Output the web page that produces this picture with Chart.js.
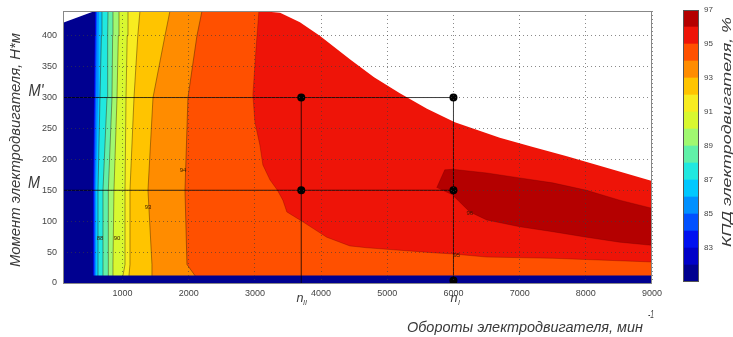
<!DOCTYPE html>
<html>
<head>
<meta charset="utf-8">
<script src="https://cdn.jsdelivr.net/npm/chart.js@4.4.0/dist/chart.umd.min.js"></script>
<style>
html,body{margin:0;padding:0;background:#fff;}
#wrap{position:relative;width:733px;height:337px;}
#main{position:absolute;left:0;top:0;}
#bar{position:absolute;left:680px;top:0;}
</style>
</head>
<body>
<div id="wrap">
<canvas id="main" width="733" height="337"></canvas>
<canvas id="bar" width="53" height="337"></canvas>
</div>
<script>
//----------------- data
// colour bands of the colour bar, 1% each from 81 to 97
const bandLow = [81,82,83,84,85,86,87,88,89,90,91,92,93,94,95,96]
const bandColors = ['#000090','#0000c8','#0010f0','#0050ff','#0090ff','#00c8ff','#20e8e0','#60f0a8',
                    '#a0f870','#d8f830','#f8ec20','#ffc400','#ff8c00','#ff5000','#ee1408','#b40000']
const barTicks = [83,85,87,89,91,93,95,97]
const xTicks = [1000,2000,3000,4000,5000,6000,7000,8000,9000]
const yTicks = [0,50,100,150,200,250,300,350,400]

// torque values (N*m) where the near-vertical contour lines were read
const lineTorque = [12, 30, 150, 300, 400, 440]
// speed (rpm) of contour lines 82..94 at those torques
const contour82 = [553,553,553,568,578,583]
const contour83 = [560,560,560,575,585,590]
const contour84 = [568,568,568,583,593,598]
const contour85 = [583,583,583,598,609,614]
const contour86 = [598,598,598,629,639,644]
const contour87 = [629,629,629,659,680,689]
const contour88 = [704,704,704,765,775,780]
const contour89 = [780,780,795,840,850,855]
const contour90 = [855,855,870,916,936,946]
const contour91 = [1006,1037,1037,1052,1070,1082]
const contour92 = [1097,1112,1112,1173,1230,1263]
const contour93 = [1444,1444,1384,1460,1641,1716]
const contour94 = [2094,1973,1943,1988,2124,2200]

// 95% contour (upper edge of the 94..95 band), speed/torque pairs
const contour95 = [[3060,440],[3015,377],[2969,304],[3000,260],[3075,223],[3120,191],[3226,167],[3340,150],
                   [3422,134],[3482,115],[3724,99],[4086,74],[4434,60],[4690,57],[5189,53],[5687,49],
                   [5989,47],[6502,42],[7499,40],[8994,34]]
// 96% island
const contour96 = [[5747,154],[5868,183],[5989,184],[6502,178],[7001,170],[7499,162],[8012,150],[8511,134],
                   [8994,121],[9800,112],[9800,55],[8994,61],[8511,66],[8012,74],[7499,83],[7001,91],
                   [6502,102],[6246,115],[5989,142]]
// max torque curve of the motor
const torqueLimit = [[100,421],[580,440],[3080,440],[3380,437],[3680,422],[3980,400],[4435,362],[4800,333],
                     [5190,307],[5600,282],[6021,260],[6700,235],[7200,220],[7713,205],[8300,187],[9000,165]]
const lowTorqueBand = 12   // below this the efficiency drops off (dark band)

// operating points
const nII = 3700, nI = 6000
const Mprime = 300, Mnom = 150
const opPoints = [[nII,Mprime],[nI,Mprime],[nII,Mnom],[nI,Mnom],[nI,4]]

// inline contour labels [speed, torque, text]
const contourLabels = [[660,73,'88'],[916,73,'90'],[1384,123,'93'],[1913,183,'94'],[6050,44,'95'],[6246,113,'96']]

//----------------- build polygons
const pt = p => ({x:p[0], y:p[1]})

function leftRegion(xs){
  const pts = [{x:xs[0], y:-40}]
  xs.forEach((x,i) => pts.push({x:x, y:lineTorque[i]}))
  pts.push({x:xs[xs.length-1], y:500}, {x:9900, y:500}, {x:9900, y:-40})
  return pts
}

const leftContours = [contour82,contour83,contour84,contour85,contour86,contour87,contour88,
                      contour89,contour90,contour91,contour92,contour93,contour94]

const layers = []
function polygon(points, color, line){
  layers.push({
    data: points, showLine: true, fill: 'shape', backgroundColor: color,
    borderColor: line || 'rgba(0,0,0,0)', borderWidth: line ? 0.8 : 0,
    pointRadius: 0, tension: 0
  })
}
// navy background (< 82 %)
polygon([{x:-500,y:-40},{x:9900,y:-40},{x:9900,y:500},{x:-500,y:500}], bandColors[0])
leftContours.forEach((xs,i) => {
  const lvl = 82 + i
  polygon(leftRegion(xs), bandColors[lvl-81], lvl >= 87 ? 'rgba(60,25,0,0.55)' : null)
})
polygon([{x:3060,y:500}].concat(contour95.map(pt), [{x:9900,y:33},{x:9900,y:500}]), bandColors[14], 'rgba(90,0,0,0.35)')
polygon(contour96.map(pt), bandColors[15], 'rgba(90,0,0,0.35)')
// dark low-torque band
polygon([{x:-500,y:-40},{x:9900,y:-40},{x:9900,y:lowTorqueBand},{x:-500,y:lowTorqueBand}], bandColors[0])
// white area above max torque
polygon([{x:-500,y:421}].concat(torqueLimit.map(pt), [{x:9900,y:165},{x:9900,y:600},{x:-500,y:600}]), '#ffffff')

// guide lines to the operating points
const guides = [
  [[100,Mprime],[nI,Mprime]],
  [[100,Mnom],[nI,Mnom]],
  [[nII,0],[nII,Mprime]],
  [[nI,0],[nI,Mprime]]
]
guides.forEach(g => layers.push({
  data: g.map(pt), showLine: true, fill: false, borderColor: 'rgba(0,0,0,0.85)',
  borderWidth: 0.9, pointRadius: 0
}))
layers.push({
  data: opPoints.map(pt), showLine: false, pointRadius: 4, pointBackgroundColor: '#000',
  pointBorderWidth: 0
})
// later = drawn on top
layers.forEach((d,i) => d.order = layers.length - i)

//----------------- text helpers
function fitText(ctx, text, x, y, width, rot, font, color){
  ctx.save()
  ctx.font = font
  ctx.fillStyle = color || '#3a3a3a'
  ctx.textAlign = 'center'
  ctx.textBaseline = 'middle'
  const w = ctx.measureText(text).width
  ctx.translate(x, y)
  ctx.rotate(rot)
  ctx.scale(width / w, 1)
  ctx.fillText(text, 0, 0)
  ctx.restore()
}

const labelsPlugin = {
  id: 'labels',
  afterDatasetsDraw(chart){
    const ctx = chart.ctx
    const xs = chart.scales.x, ys = chart.scales.y
    ctx.save()
    ctx.font = '6px "Liberation Sans"'
    ctx.fillStyle = '#3a1a00'
    ctx.textAlign = 'center'
    ctx.textBaseline = 'middle'
    contourLabels.forEach(l => ctx.fillText(l[2], xs.getPixelForValue(l[0]), ys.getPixelForValue(l[1])))
    ctx.restore()
  },
  afterDraw(chart){
    const ctx = chart.ctx
    const a = chart.chartArea
    ctx.save()
    ctx.strokeStyle = '#888'
    ctx.lineWidth = 1
    ctx.strokeRect(a.left + 0.5, a.top + 0.5, a.right - a.left - 1, a.bottom - a.top)
    ctx.restore()
    const f = 'italic 14px "Liberation Sans"'
    fitText(ctx, 'Момент электродвигателя, Н*м', 16, 150, 234, -Math.PI/2, f)
    fitText(ctx, 'Обороты электродвигателя, мин', 525, 328, 236, 0, f)
    fitText(ctx, '-1', 651, 315, 6, 0, 'italic 10px "Liberation Sans"')
    fitText(ctx, 'КПД электродвигателя, %', 727, 132, 230, -Math.PI/2, 'italic 13px "Liberation Sans"')
    fitText(ctx, 'М\'', 36, 91, 15, 0, 'italic 17px "Liberation Sans"')
    fitText(ctx, 'М', 34, 183, 12, 0, 'italic 17px "Liberation Sans"')
    fitText(ctx, 'n', 300, 298, 7, 0, 'italic 13px "Liberation Sans"')
    fitText(ctx, 'II', 305, 303, 4, 0, 'italic 7px "Liberation Sans"')
    fitText(ctx, 'n', 454, 298, 7, 0, 'italic 13px "Liberation Sans"')
    fitText(ctx, 'I', 459, 303, 2, 0, 'italic 7px "Liberation Sans"')
  }
}

//----------------- main contour chart
const tickFont = {family: 'Liberation Sans', size: 9}
Contour = new Chart(document.getElementById('main'), {
  type: 'scatter',
  data: {datasets: layers},
  options: {
    responsive: false,
    animation: false,
    layout: {padding: {top: 11, right: 81, left: 0, bottom: 0}},
    plugins: {legend: {display: false}, tooltip: {enabled: false}},
    scales: {
      x: {
        type: 'linear', min: 100, max: 9000,
        afterBuildTicks: s => { s.ticks = xTicks.map(v => ({value: v})) },
        afterFit: s => { s.height = 54; s.paddingLeft = 0; s.paddingRight = 0 },
        grid: {color: 'rgba(60,60,60,0.6)', drawTicks: false, z: 1},
        border: {display: false, dash: [1,3]},
        ticks: {font: tickFont, color: '#444', padding: 5, maxRotation: 0, callback: v => String(v)}
      },
      y: {
        type: 'linear', min: 0, max: 440,
        afterBuildTicks: s => { s.ticks = yTicks.map(v => ({value: v})) },
        afterFit: s => { s.width = 63; s.paddingTop = 0; s.paddingBottom = 0 },
        grid: {color: 'rgba(60,60,60,0.6)', drawTicks: false, z: 1},
        border: {display: false, dash: [1,3]},
        ticks: {font: tickFont, color: '#444', padding: 6, callback: v => String(v)}
      }
    }
  },
  plugins: [labelsPlugin]
})

//----------------- colour bar
const barFrame = {
  id: 'frame',
  afterDraw(chart){
    const a = chart.chartArea
    chart.ctx.save()
    chart.ctx.strokeStyle = '#555'
    chart.ctx.strokeRect(a.left + 0.5, a.top + 0.5, a.right - a.left - 1, a.bottom - a.top - 1)
    chart.ctx.restore()
  }
}
ColorBar = new Chart(document.getElementById('bar'), {
  type: 'bar',
  data: {
    labels: [''],
    datasets: bandLow.map((lo,i) => ({
      data: [[lo, lo + 1]], backgroundColor: bandColors[i], borderWidth: 0,
      barPercentage: 1, categoryPercentage: 1, grouped: false
    }))
  },
  options: {
    responsive: false,
    animation: false,
    layout: {padding: {left: 3, top: 10, bottom: 55, right: 0}},
    plugins: {legend: {display: false}, tooltip: {enabled: false}},
    scales: {
      x: {display: false},
      y: {
        position: 'right', min: 81, max: 97,
        afterBuildTicks: s => { s.ticks = barTicks.map(v => ({value: v})) },
        afterFit: s => { s.width = 34; s.paddingTop = 0; s.paddingBottom = 0 },
        grid: {display: false, drawTicks: false, tickLength: 0},
        border: {display: false},
        ticks: {font: {family: 'Liberation Sans', size: 8}, color: '#444', padding: 5}
      }
    }
  },
  plugins: [barFrame]
})
</script>
</body>
</html>
